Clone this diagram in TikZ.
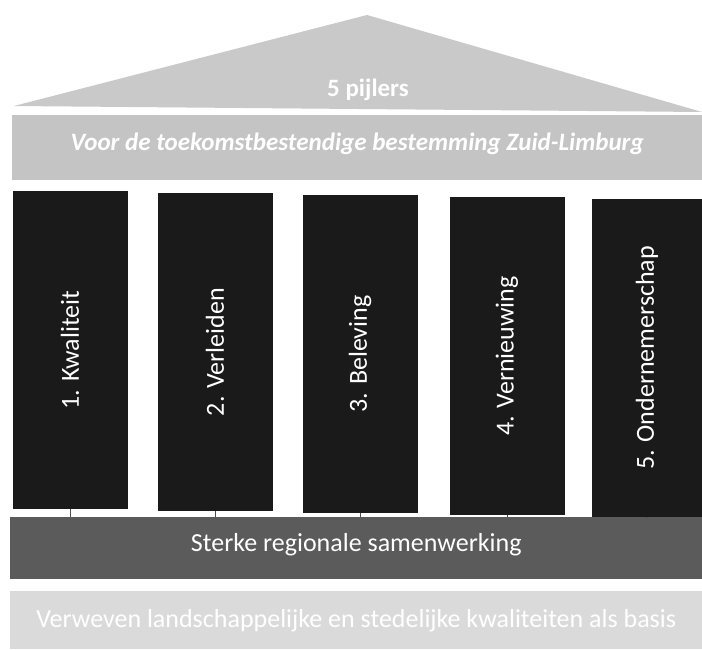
\documentclass[tikz,border=0pt]{standalone}
\usepackage{fontspec}
\setmainfont{Carlito}
\begin{document}
\begin{tikzpicture}[x=1pt,y=-1pt,
  pillar/.style={draw=none,fill=pillarblack,minimum width=115pt,minimum height=318pt,inner sep=0pt},
  pillartext/.style={text=white,font=\fontsize{26}{28}\selectfont,rotate=90},
  band/.style={draw=none,inner sep=0pt,anchor=north west},
  link/.style={draw=black!70,line width=0.8pt}]
\definecolor{roofgray}{HTML}{C9C9C9}
\definecolor{bandgray}{HTML}{C4C4C4}
\definecolor{basegray}{HTML}{DADADA}
\definecolor{bargray}{HTML}{5B5B5B}
\definecolor{pillarblack}{HTML}{1A1A1A}
\useasboundingbox (0,0) rectangle (702,650);
\fill[white] (0,0) rectangle (702,650);
% roof
\fill[roofgray] (14,106) -- (367,15) -- (702,112) -- cycle;
\node[text=white,font=\fontsize{25}{27}\selectfont\bfseries] (roof) at (368,90) {5 pijlers};
% top band
\node[band,fill=bandgray,minimum width=690pt,minimum height=65pt] (top) at (12,115) {};
\node[text=white,font=\fontsize{25}{27}\selectfont\bfseries\itshape] (toptext) at ([yshift=4pt]top.center) {Voor de toekomstbestendige bestemming Zuid-Limburg};
% pillars
\node[pillar] (p1) at (70,350) {};
\node[pillar] (p2) at (215,352) {};
\node[pillar] (p3) at (360,354) {};
\node[pillar] (p4) at (507,356) {};
\node[pillar,minimum width=110pt] (p5) at (647,358) {};
\node[pillartext] at (p1.center) {1. Kwaliteit};
\node[pillartext] at (p2.center) {2. Verleiden};
\node[pillartext] at (p3.center) {3. Beleving};
\node[pillartext] at (p4.center) {4. Vernieuwing};
\node[pillartext] at (p5.center) {5. Ondernemerschap};
% bar
\node[band,fill=bargray,minimum width=692pt,minimum height=62pt] (bar) at (10,517) {};
\node[text=white,font=\fontsize{26}{28}\selectfont] (bartext) at ([yshift=3pt]bar.center) {Sterke regionale samenwerking};
% connectors
\foreach \p in {p1,p2,p3,p4,p5}{
  \draw[link] (\p.south) -- (\p.south |- bar.north);
}
% base band
\node[band,fill=basegray,minimum width=692pt,minimum height=58pt] (base) at (10,591) {};
\node[text=white,font=\fontsize{26}{28}\selectfont] (basetext) at (base.center) {Verweven landschappelijke en stedelijke kwaliteiten als basis};
\end{tikzpicture}
\end{document}
